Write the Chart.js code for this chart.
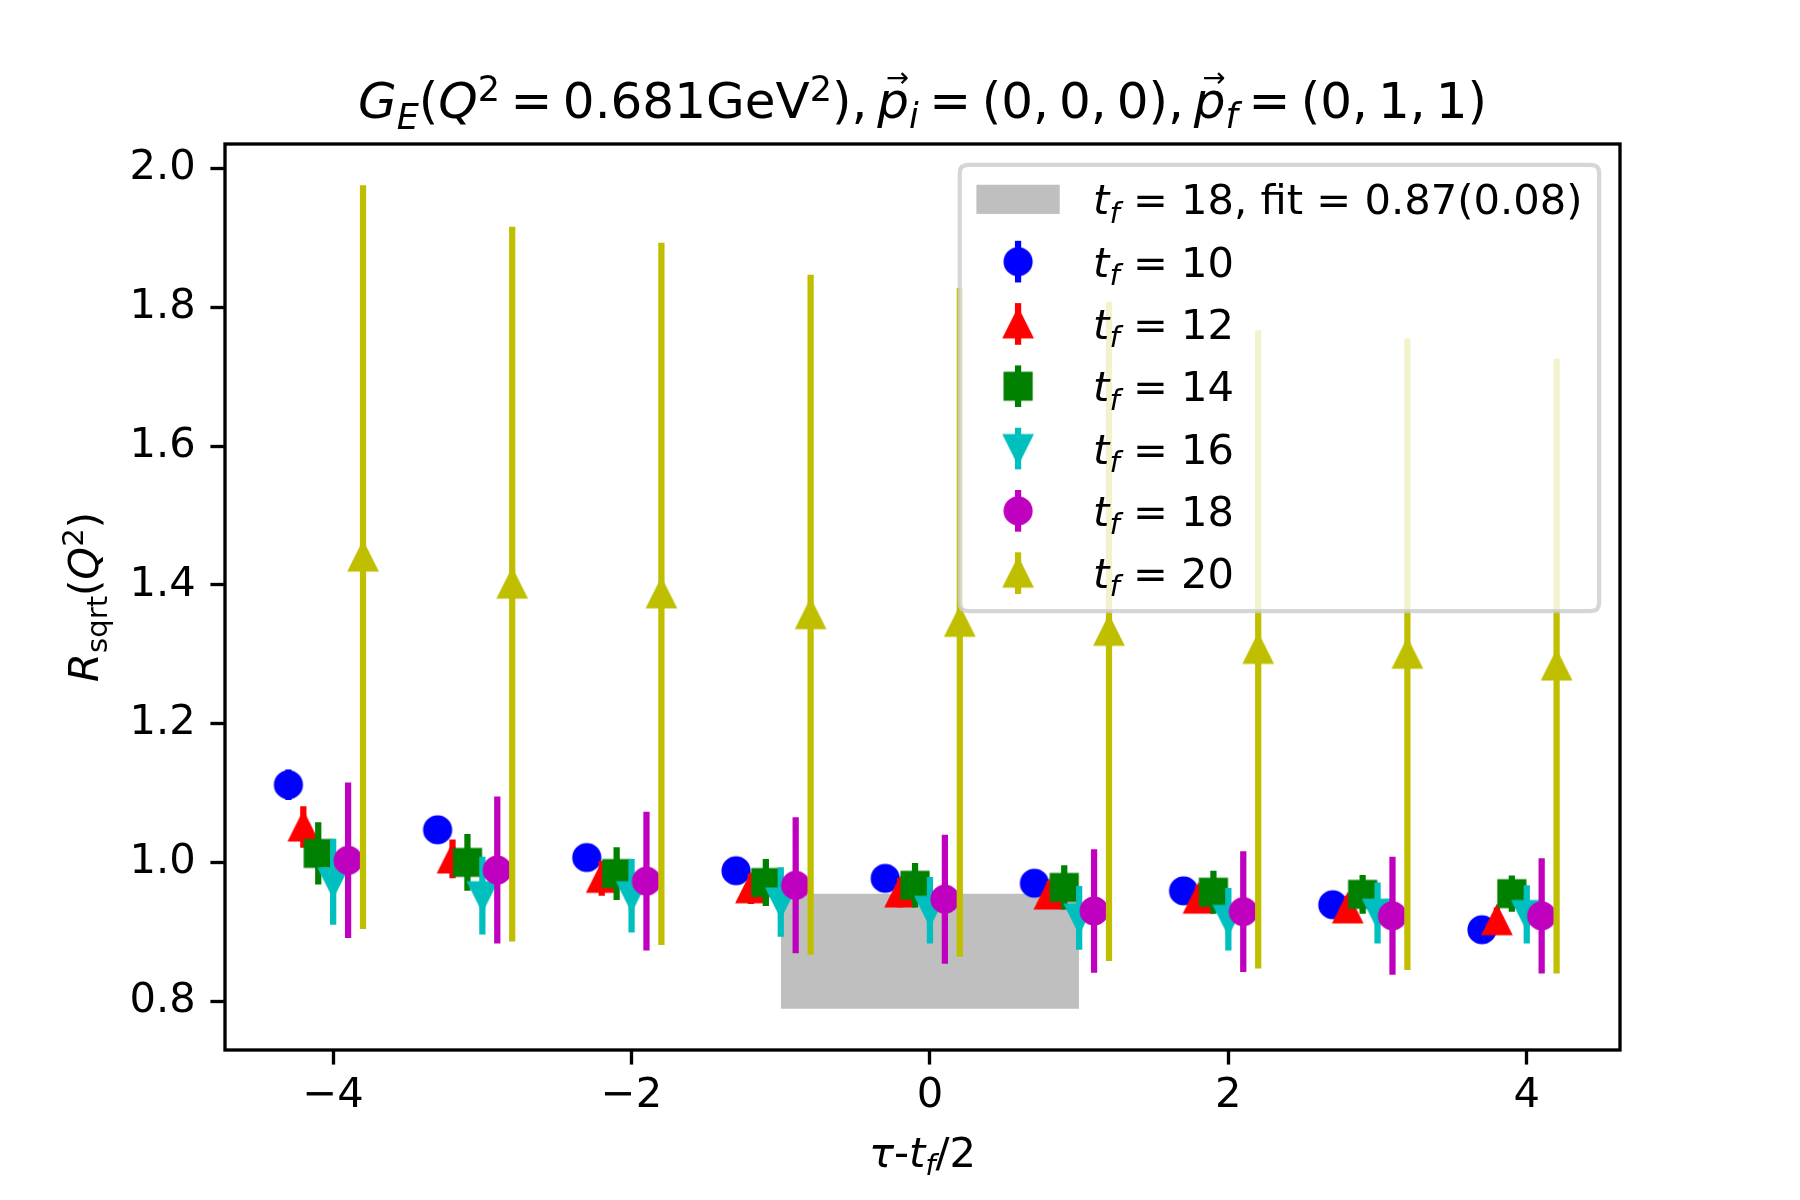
<!DOCTYPE html>
<html>
<head>
<meta charset="utf-8">
<script src="https://cdn.jsdelivr.net/npm/chart.js@4.4.1/dist/chart.umd.min.js"></script>
<style>
html,body{margin:0;padding:0;background:#fff;}
canvas{display:block;}
</style>
</head>
<body>
<canvas id="c" width="1800" height="1200" style="width:1800px;height:1200px"></canvas>
<script>
// ---------------- data ----------------
const tau = [-4, -3, -2, -1, 0, 1, 2, 3, 4];
const tfList = [10, 12, 14, 16, 18, 20];
const xShift = [-0.3, -0.2, -0.1, 0.0, 0.1, 0.2];

const val10 = [1.112, 1.047, 1.007, 0.988, 0.977, 0.970, 0.959, 0.939, 0.903];
const err10 = [0.022, 0.016, 0.014, 0.013, 0.012, 0.012, 0.012, 0.012, 0.012];
const val12 = [1.051, 1.005, 0.977, 0.962, 0.956, 0.953, 0.947, 0.933, 0.916];
const err12 = [0.030, 0.028, 0.025, 0.022, 0.021, 0.020, 0.020, 0.019, 0.019];
const val14 = [1.013, 1.000, 0.984, 0.971, 0.967, 0.964, 0.957, 0.954, 0.955];
const err14 = [0.045, 0.041, 0.038, 0.034, 0.032, 0.032, 0.031, 0.028, 0.026];
const val16 = [0.972, 0.952, 0.952, 0.943, 0.931, 0.920, 0.918, 0.927, 0.925];
const err16 = [0.062, 0.056, 0.053, 0.050, 0.048, 0.046, 0.045, 0.044, 0.042];
const val18 = [1.003, 0.989, 0.973, 0.967, 0.947, 0.930, 0.929, 0.923, 0.923];
const err18 = [0.112, 0.106, 0.100, 0.098, 0.093, 0.089, 0.087, 0.085, 0.083];
const val20 = [1.440, 1.401, 1.387, 1.357, 1.346, 1.333, 1.307, 1.300, 1.283];
const err20 = [0.536, 0.515, 0.506, 0.490, 0.482, 0.475, 0.460, 0.455, 0.443];

const fitTf = 18;
const fitValue = 0.872;
const fitError = 0.083;
const fitRange = [-1, 1];

const xTicks = [-4, -2, 0, 2, 4];
const yTicks = [0.8, 1.0, 1.2, 1.4, 1.6, 1.8, 2.0];

// ---------------- styles ----------------
const PT = 300 / 72;
const FONT = '"DejaVu Sans"';
const FS = 10 * PT;      // 10pt
const TFS = 12 * PT;     // 12pt
const colors = ['#0000ff', '#ff0000', '#008000', '#00bfbf', '#bf00bf', '#bfbf00'];
const shapes = ['circle', 'up', 'square', 'down', 'circle', 'up'];
const values = [val10, val12, val14, val16, val18, val20];
const errors = [err10, err12, err14, err16, err18, err20];

function makeMarker(shape, color) {
  const S = 44, c = S / 2, h = 6 * PT / 2, lw = PT;
  const cv = document.createElement('canvas');
  cv.width = S; cv.height = S;
  const g = cv.getContext('2d');
  g.fillStyle = color; g.strokeStyle = color; g.lineWidth = lw;
  g.beginPath();
  if (shape === 'circle') { g.arc(c, c, h, 0, 2 * Math.PI); g.lineJoin = 'round'; }
  else if (shape === 'square') { g.rect(c - h, c - h, 2 * h, 2 * h); g.lineJoin = 'miter'; }
  else if (shape === 'up') { g.moveTo(c, c - h); g.lineTo(c - h, c + h); g.lineTo(c + h, c + h); g.closePath(); g.lineJoin = 'miter'; }
  else { g.moveTo(c, c + h); g.lineTo(c - h, c - h); g.lineTo(c + h, c - h); g.closePath(); g.lineJoin = 'miter'; }
  g.fill(); g.stroke();
  return cv;
}
const markers = shapes.map((s, i) => makeMarker(s, colors[i]));

// autoscale like matplotlib (5% margins)
const allX = [], allY = [fitValue - fitError, fitValue + fitError];
tfList.forEach((tf, i) => tau.forEach((t, j) => {
  allX.push(t + xShift[i]);
  allY.push(values[i][j] - errors[i][j], values[i][j] + errors[i][j]);
}));
fitRange.forEach(x => allX.push(x));
const xmin0 = Math.min(...allX), xmax0 = Math.max(...allX);
const ymin0 = Math.min(...allY), ymax0 = Math.max(...allY);
const xm = 0.05 * (xmax0 - xmin0), ym = 0.05 * (ymax0 - ymin0);

// ---------------- datasets ----------------
const datasets = [];
datasets.push({
  type: 'line',
  label: 'fit',
  data: fitRange.map(x => ({ x: x, y: fitValue + fitError })),
  fill: { value: fitValue - fitError },
  backgroundColor: '#bfbfbf',
  borderColor: 'rgba(0,0,0,0)',
  borderWidth: 0,
  pointRadius: 0,
  order: 100
});
tfList.forEach((tf, i) => {
  datasets.push({
    type: 'scatter',
    label: 't_f = ' + tf,
    data: tau.map((t, j) => ({ x: t + xShift[i], y: values[i][j] })),
    errors: errors[i],
    errColor: colors[i],
    pointStyle: markers[i],
    pointRadius: 15,
    pointHoverRadius: 15,
    backgroundColor: colors[i],
    borderColor: colors[i],
    order: 50 - i
  });
});

// ---------------- rich text helper ----------------
function segFont(s, size) {
  const fs = (s.sub || s.sup) ? size * 0.7 : size;
  return (s.it ? 'italic ' : '') + fs + 'px ' + FONT;
}
function segWidth(ctx, s, size) {
  if (s.gap != null) return s.gap * size;
  ctx.font = segFont(s, size);
  return ctx.measureText(s.t).width;
}
function richWidth(ctx, segs, size) {
  let w = 0;
  for (const s of segs) w += segWidth(ctx, s, size);
  return w;
}
function drawRich(ctx, segs, x, y, size) {
  let cx = x;
  ctx.textAlign = 'left';
  ctx.textBaseline = 'alphabetic';
  for (const s of segs) {
    const w = segWidth(ctx, s, size);
    if (s.gap == null) {
      ctx.font = segFont(s, size);
      const dy = s.sub ? size * (s.drop != null ? s.drop : 0.2) : (s.sup ? -size * 0.35 : 0);
      ctx.fillText(s.t, cx, y + dy);
      if (s.vec) {
        ctx.save();
        ctx.font = (size * 0.55) + 'px ' + FONT;
        ctx.textAlign = 'center';
        ctx.fillText('\u2192', cx + w / 2 + size * 0.08, y - size * 0.62);
        ctx.restore();
      }
    }
    cx += w;
  }
  return cx - x;
}

const G = 0.21;  // math spacing around '=' (em)
const C = 0.2;   // space after comma (em)
const titleSegs = [
  { t: 'G', it: 1 }, { t: 'E', it: 1, sub: 1, drop: 0.22 }, { t: '(' }, { t: 'Q', it: 1 }, { t: '2', sup: 1 },
  { gap: G }, { t: '=' }, { gap: G }, { t: '0.681GeV' }, { t: '2', sup: 1 }, { t: '),' }, { gap: C },
  { t: 'p', it: 1, vec: 1 }, { t: 'i', it: 1, sub: 1 }, { gap: G }, { t: '=' }, { gap: G },
  { t: '(0,' }, { gap: C }, { t: '0,' }, { gap: C }, { t: '0),' }, { gap: C },
  { t: 'p', it: 1, vec: 1 }, { t: 'f', it: 1, sub: 1 }, { gap: G }, { t: '=' }, { gap: G },
  { t: '(0,' }, { gap: C }, { t: '1,' }, { gap: C }, { t: '1)' }
];
const xLabelSegs = [{ t: '\u03c4', it: 1 }, { t: '-' }, { t: 't', it: 1 }, { t: 'f', it: 1, sub: 1 }, { t: '/2' }];
const yLabelSegs = [{ t: 'R', it: 1 }, { t: 'sqrt', sub: 1, drop: 0.22 }, { t: '(' }, { t: 'Q', it: 1 }, { t: '2', sup: 1 }, { t: ')' }];
const fitLabel = [{ t: 't', it: 1 }, { t: 'f', it: 1, sub: 1, drop: 0.2 },
  { t: ' = ' + fitTf + ', fit = ' + fitValue.toFixed(2) + '(' + fitError.toFixed(2) + ')' }];
const seriesLabels = tfList.map(tf => [{ t: 't', it: 1 }, { t: 'f', it: 1, sub: 1, drop: 0.2 }, { t: ' = ' + tf }]);

// ---------------- plugins ----------------
const errorBarPlugin = {
  id: 'errbars',
  beforeDatasetDraw(chart, args) {
    const ds = chart.data.datasets[args.index];
    if (!ds.errors) return;
    const xs = chart.scales.x, ys = chart.scales.y, a = chart.chartArea;
    const ctx = chart.ctx;
    ctx.save();
    ctx.beginPath(); ctx.rect(a.left, a.top, a.right - a.left, a.bottom - a.top); ctx.clip();
    ctx.strokeStyle = ds.errColor;
    ctx.lineWidth = 1.5 * PT;
    ctx.lineCap = 'butt';
    ctx.beginPath();
    ds.data.forEach((p, j) => {
      const px = xs.getPixelForValue(p.x);
      ctx.moveTo(px, ys.getPixelForValue(p.y - ds.errors[j]));
      ctx.lineTo(px, ys.getPixelForValue(p.y + ds.errors[j]));
    });
    ctx.stroke();
    ctx.restore();
  }
};

const decorPlugin = {
  id: 'decor',
  afterDatasetsDraw(chart) {
    const ctx = chart.ctx, a = chart.chartArea;
    ctx.save();
    ctx.strokeStyle = '#000';
    ctx.lineWidth = 0.8 * PT;
    ctx.lineJoin = 'miter';
    ctx.strokeRect(a.left, a.top, a.right - a.left, a.bottom - a.top);
    ctx.restore();
  },
  afterDraw(chart) {
    const ctx = chart.ctx, a = chart.chartArea;
    ctx.save();
    ctx.fillStyle = '#000';
    // title
    const tw = richWidth(ctx, titleSegs, TFS);
    drawRich(ctx, titleSegs, (a.left + a.right) / 2 - tw / 2, a.top - 26, TFS);
    // x label
    const xw = richWidth(ctx, xLabelSegs, FS);
    drawRich(ctx, xLabelSegs, (a.left + a.right) / 2 - xw / 2, a.bottom + 117, FS);
    // y label
    const yw = richWidth(ctx, yLabelSegs, FS);
    ctx.save();
    ctx.translate(a.left - 127, (a.top + a.bottom) / 2);
    ctx.rotate(-Math.PI / 2);
    drawRich(ctx, yLabelSegs, -yw / 2, 0, FS);
    ctx.restore();

    // legend
    const labels = [fitLabel].concat(seriesLabels);
    let maxW = 0;
    labels.forEach(l => { maxW = Math.max(maxW, richWidth(ctx, l, FS)); });
    const pad = 0.5 * FS, bpad = 0.4 * FS, hl = 2 * FS, htp = 0.8 * FS;
    const right = a.right - pad, top = a.top + pad;
    const left = right - (bpad + hl + htp + maxW + bpad);
    const rowH = 62.3;
    const base0 = top + 49.5;
    const bottom = base0 + rowH * (labels.length - 1) + 23;
    const r = 0.2 * FS;
    ctx.beginPath();
    ctx.moveTo(left + r, top);
    ctx.lineTo(right - r, top); ctx.quadraticCurveTo(right, top, right, top + r);
    ctx.lineTo(right, bottom - r); ctx.quadraticCurveTo(right, bottom, right - r, bottom);
    ctx.lineTo(left + r, bottom); ctx.quadraticCurveTo(left, bottom, left, bottom - r);
    ctx.lineTo(left, top + r); ctx.quadraticCurveTo(left, top, left + r, top);
    ctx.closePath();
    ctx.fillStyle = 'rgba(255,255,255,0.8)';
    ctx.fill();
    ctx.strokeStyle = 'rgba(204,204,204,0.8)';
    ctx.lineWidth = PT;
    ctx.stroke();

    const hx0 = left + bpad, hcx = hx0 + hl / 2, tx = hx0 + hl + htp;
    labels.forEach((l, i) => {
      const base = base0 + rowH * i;
      const cy = base - 15;
      if (i === 0) {
        ctx.fillStyle = '#bfbfbf';
        ctx.fillRect(hx0, cy - 0.35 * FS, hl, 0.7 * FS);
      } else {
        const k = i - 1;
        ctx.strokeStyle = colors[k];
        ctx.lineWidth = 1.5 * PT;
        ctx.beginPath();
        ctx.moveTo(hcx, cy - 0.5 * FS); ctx.lineTo(hcx, cy + 0.5 * FS);
        ctx.stroke();
        const m = markers[k];
        ctx.drawImage(m, hcx - m.width / 2, cy - m.height / 2);
      }
      ctx.fillStyle = '#000';
      drawRich(ctx, l, tx, base, FS);
    });
    ctx.restore();
  }
};

// ---------------- chart ----------------
new Chart(document.getElementById('c'), {
  type: 'scatter',
  data: { datasets: datasets },
  options: {
    responsive: false,
    devicePixelRatio: 1,
    animation: false,
    events: [],
    layout: { padding: { left: 0, right: 180, top: 144, bottom: 0 } },
    plugins: { legend: { display: false }, tooltip: { enabled: false }, title: { display: false } },
    scales: {
      x: {
        type: 'linear',
        min: xmin0 - xm,
        max: xmax0 + xm,
        afterFit: s => { s.height = 150; },
        afterBuildTicks: s => { s.ticks = xTicks.map(v => ({ value: v })); },
        grid: { display: true, drawOnChartArea: false, drawTicks: true, tickLength: 3.5 * PT, tickWidth: 0.8 * PT, tickColor: '#000', color: '#000' },
        border: { display: false },
        ticks: {
          color: '#000',
          padding: 6.2,
          maxRotation: 0,
          font: { family: 'DejaVu Sans', size: FS },
          callback: v => (v < 0 ? '\u2212' + Math.abs(v) : String(v))
        }
      },
      y: {
        type: 'linear',
        min: ymin0 - ym,
        max: ymax0 + ym,
        afterFit: s => { s.width = 225; },
        afterBuildTicks: s => { s.ticks = yTicks.map(v => ({ value: v })); },
        grid: { display: true, drawOnChartArea: false, drawTicks: true, tickLength: 3.5 * PT, tickWidth: 0.8 * PT, tickColor: '#000', color: '#000' },
        border: { display: false },
        ticks: {
          color: '#000',
          padding: 3.5 * PT,
          font: { family: 'DejaVu Sans', size: FS },
          callback: v => Number(v).toFixed(1)
        }
      }
    }
  },
  plugins: [errorBarPlugin, decorPlugin]
});
</script>
</body>
</html>
